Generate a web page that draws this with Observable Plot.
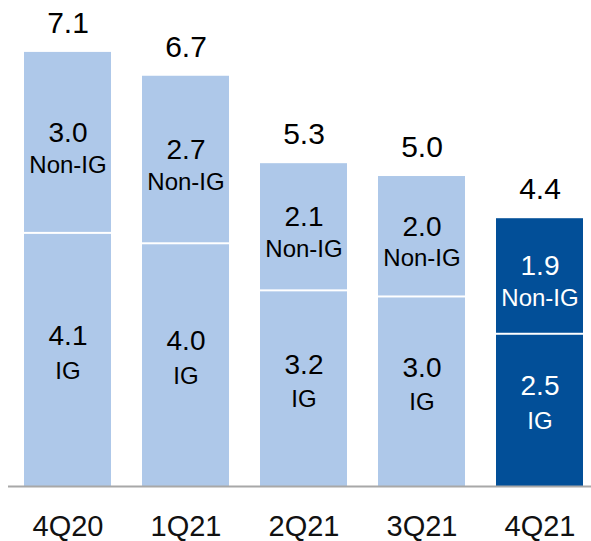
<!DOCTYPE html>
<html>
<head>
<meta charset="utf-8">
<script src="https://cdn.jsdelivr.net/npm/d3@7"></script>
<script src="https://cdn.jsdelivr.net/npm/@observablehq/plot@0.6"></script>
<style>
  html, body { margin: 0; padding: 0; background: #fff; }
  #chart svg { display: block; }
</style>
</head>
<body>
<div id="chart"></div>
<script>
// Categories
const quarters = ["4Q20", "1Q21", "2Q21", "3Q21", "4Q21"];
// Drawn segment heights
const igValues = [4.14, 3.97, 3.20, 3.10, 2.49];
const nonIgValues = [2.96, 2.74, 2.08, 1.97, 1.89];
// Printed labels
const igLabels = ["4.1", "4.0", "3.2", "3.0", "2.5"];
const nonIgLabels = ["3.0", "2.7", "2.1", "2.0", "1.9"];
const totalLabels = ["7.1", "6.7", "5.3", "5.0", "4.4"];
const highlight = "4Q21";

const LIGHT = "#aec8e9";
const DARK = "#024f98";
const FONT = "'Liberation Sans', Arial, Helvetica, sans-serif";

const rows = quarters.map((q, i) => ({
  q,
  ig: igValues[i],
  non: nonIgValues[i],
  total: igValues[i] + nonIgValues[i],
  igLabel: igLabels[i],
  nonLabel: nonIgLabels[i],
  totalLabel: totalLabels[i]
}));

const fillOf = d => d.q === highlight ? DARK : LIGHT;
const textOf = d => d.q === highlight ? "white" : "black";

const chart = Plot.plot({
  width: 591,
  height: 541,
  marginTop: 3,
  marginBottom: 55,
  marginLeft: 23,
  marginRight: 7,
  style: { fontFamily: FONT, background: "white" },
  x: { domain: quarters, paddingInner: 0.266, paddingOuter: 0, label: null },
  y: { domain: [0, 7.9], axis: null },
  marks: [
    Plot.axisX({ tickSize: 0, tickPadding: 29, fontSize: 29, fill: "#111", label: null }),
    // IG segment
    Plot.barY(rows, { x: "q", y1: () => 0, y2: "ig", fill: fillOf, insetTop: 1 }),
    // Non-IG segment
    Plot.barY(rows, { x: "q", y1: "ig", y2: "total", fill: fillOf, insetBottom: 1 }),
    // Baseline
    Plot.ruleY([0], { stroke: "#a8a8a8", strokeWidth: 2, insetLeft: -15, insetRight: -7 }),
    // IG numbers and labels
    Plot.text(rows, { x: "q", y: d => d.ig / 2, text: "igLabel", fill: textOf, fontSize: 28, dy: -24 }),
    Plot.text(rows, { x: "q", y: d => d.ig / 2, text: () => "IG", fill: textOf, fontSize: 24, dy: 11 }),
    // Non-IG numbers and labels
    Plot.text(rows, { x: "q", y: d => d.ig + d.non / 2, text: "nonLabel", fill: textOf, fontSize: 28, dy: -10 }),
    Plot.text(rows, { x: "q", y: d => d.ig + d.non / 2, text: () => "Non-IG", fill: textOf, fontSize: 24, dy: 22 }),
    // Totals
    Plot.text(rows, { x: "q", y: "total", text: "totalLabel", fill: "black", fontSize: 30, dy: -29 })
  ]
});

document.getElementById("chart").appendChild(chart);
</script>
</body>
</html>
